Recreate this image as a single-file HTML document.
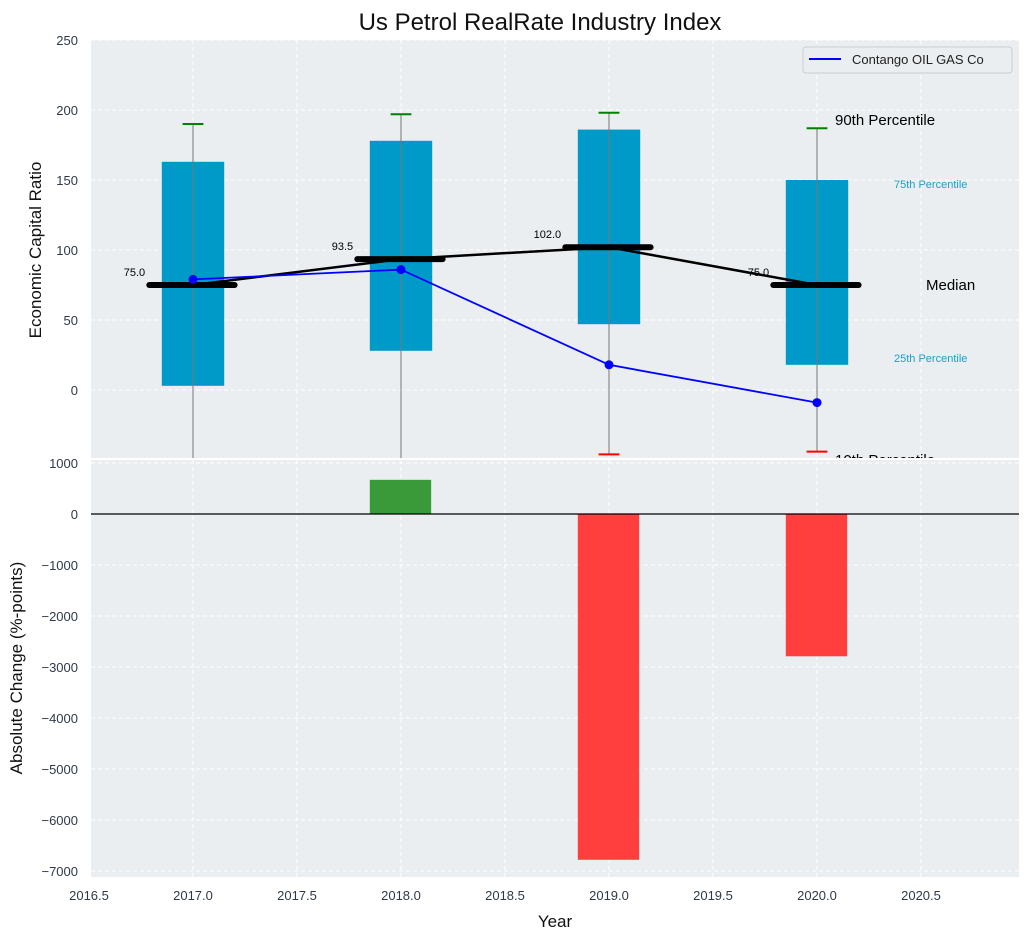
<!DOCTYPE html>
<html><head><meta charset="utf-8"><style>
body{margin:0;background:#fff;font-family:"Liberation Sans",sans-serif}
svg text{font-family:"Liberation Sans",sans-serif}
</style></head><body>
<svg id="c" width="1029" height="940"></svg>
<script>
const years=[2017,2018,2019,2020];
const q25=[3,28,47,18];
const q75=[163,178,186,150];
const p90=[190,197,198,187];
const p10=[-60,-60,-46,-44];
const medians=[75,93.5,102,75];
const company=[79,86,18,-9];
const changes=[0,670,-6780,-2790];
const xTicks=[2016.5,2017,2017.5,2018,2018.5,2019,2019.5,2020,2020.5];
const yTopTicks=[0,50,100,150,200,250];
const yBotTicks=[1000,0,-1000,-2000,-3000,-4000,-5000,-6000,-7000];

const L=91,R=1019,T1=40,B1=458,T2=460,B2=877;
const X=v=>193+(v-2017)*208;
const Y1=v=>390-v*1.4;
const Y2=v=>514-v*0.051;
const svg=document.getElementById('c');
const NS='http://www.w3.org/2000/svg';
function mk(t,a,p){const e=document.createElementNS(NS,t);for(const k in a)e.setAttribute(k,a[k]);(p||svg).appendChild(e);return e;}
function txt(s,a,p){const e=mk('text',a,p);e.textContent=s;return e;}
const fmt=v=>String(v).replace('-','\u2212');

let bg1=mk('rect',{x:L,y:T1,width:R-L,height:B1-T1,fill:'#eaeef0'});


let bg2=mk('rect',{x:L,y:T2,width:R-L,height:B2-T2,fill:'#eaeef0'});



const defs=mk('defs',{});
const c1=mk('clipPath',{id:'c1'},defs);mk('rect',{x:L,y:T1,width:R-L,height:B1-T1},c1);
const c2=mk('clipPath',{id:'c2'},defs);mk('rect',{x:L,y:T2,width:R-L,height:B2-T2},c2);

xTicks.forEach(t=>{
  mk('line',{x1:X(t),x2:X(t),y1:T1,y2:B1,stroke:'#fff','stroke-dasharray':'4,3'});
  mk('line',{x1:X(t),x2:X(t),y1:T2,y2:B2,stroke:'#fff','stroke-dasharray':'4,3'});
  const l=txt(t.toFixed(1),{x:X(t),y:900,'text-anchor':'middle','font-size':13,fill:'#2e3a4a'});
  
  
});
yTopTicks.forEach(t=>{
  mk('line',{x1:L,x2:R,y1:Y1(t),y2:Y1(t),stroke:'#fff','stroke-dasharray':'4,3'});
  const l=txt(fmt(t),{x:78,y:Y1(t)+5,'text-anchor':'end','font-size':13,fill:'#2e3a4a'});
  
  
});
yBotTicks.forEach(t=>{
  mk('line',{x1:L,x2:R,y1:Y2(t),y2:Y2(t),stroke:'#fff','stroke-dasharray':'4,3'});
  const l=txt(fmt(t),{x:78,y:Y2(t)+5,'text-anchor':'end','font-size':13,fill:'#2e3a4a'});
  
  
});

const g1=mk('g',{'clip-path':'url(#c1)'});
years.forEach((y,i)=>{
  const b=mk('rect',{x:X(y-0.15),y:Y1(q75[i]),width:X(y+0.15)-X(y-0.15),height:Y1(q25[i])-Y1(q75[i]),fill:'#009ac9'},g1);
  
  
  mk('line',{x1:X(y),x2:X(y),y1:Y1(p90[i]),y2:Y1(p10[i]),stroke:'#777','stroke-width':1},g1);
  mk('line',{x1:X(y-0.05),x2:X(y+0.05),y1:Y1(p90[i]),y2:Y1(p90[i]),stroke:'green','stroke-width':2},g1);
  mk('line',{x1:X(y-0.05),x2:X(y+0.05),y1:Y1(p10[i]),y2:Y1(p10[i]),stroke:'red','stroke-width':2},g1);
});
mk('polyline',{points:years.map((y,i)=>X(y)+','+Y1(medians[i])).join(' '),fill:'none',stroke:'#000','stroke-width':2.5},g1);
years.forEach((y,i)=>{
  const m=mk('line',{x1:X(y-0.21),x2:X(y+0.2),y1:Y1(medians[i]),y2:Y1(medians[i]),stroke:'#000','stroke-width':6,'stroke-linecap':'round'},g1);
  
  
  const l=txt(medians[i].toFixed(1),{x:X(y-0.23),y:Y1(medians[i])-9,'text-anchor':'end','font-size':11,fill:'#000'},g1);
  
  
});
const pl=mk('polyline',{points:years.map((y,i)=>X(y)+','+Y1(company[i])).join(' '),fill:'none',stroke:'blue','stroke-width':1.8},g1);


years.forEach((y,i)=>{
  const p=mk('circle',{cx:X(y),cy:Y1(company[i]),r:4.5,fill:'blue'},g1);
  
  
});
txt('90th Percentile',{x:835,y:125,'font-size':15,fill:'#000'},g1);
txt('75th Percentile',{x:894,y:188,'font-size':11,fill:'#1a9fcc'},g1);
txt('Median',{x:926,y:290,'font-size':15,fill:'#000'},g1);
txt('25th Percentile',{x:894,y:362,'font-size':11,fill:'#1a9fcc'},g1);
txt('10th Percentile',{x:835,y:465,'font-size':15,fill:'#000'},g1);

const lg=mk('g',{});


mk('rect',{x:803,y:47,width:209,height:26,rx:3,fill:'#eaeef0',stroke:'#ccc'},lg);
mk('line',{x1:809,x2:841,y1:59,y2:59,stroke:'blue','stroke-width':2},lg);
txt('Contango OIL GAS Co',{x:852,y:64,'font-size':13,fill:'#222'},lg);

const g2=mk('g',{'clip-path':'url(#c2)'});
years.forEach((y,i)=>{
  const v=changes[i];if(v===0)return;
  const b=mk('rect',{x:X(y-0.15),y:Math.min(Y2(v),Y2(0)),width:X(y+0.145)-X(y-0.15),height:Math.abs(Y2(v)-Y2(0)),fill:v>0?'#3a9a3a':'#ff3e3e'},g2);
  
  
});
mk('line',{x1:L,x2:R,y1:Y2(0),y2:Y2(0),stroke:'#000','stroke-width':1.2});

const t=txt('Us Petrol RealRate Industry Index',{x:540,y:30,'text-anchor':'middle','font-size':24,fill:'#111'});

const xa=txt('Year',{x:555,y:927,'text-anchor':'middle','font-size':17,fill:'#111'});

const ya=txt('Economic Capital Ratio',{x:0,y:0,'text-anchor':'middle','font-size':17,fill:'#111',transform:'translate(41,250) rotate(-90)'});

const yb=txt('Absolute Change (%-points)',{x:0,y:0,'text-anchor':'middle','font-size':17,fill:'#111',transform:'translate(22,668) rotate(-90)'});

</script>
</body></html>
